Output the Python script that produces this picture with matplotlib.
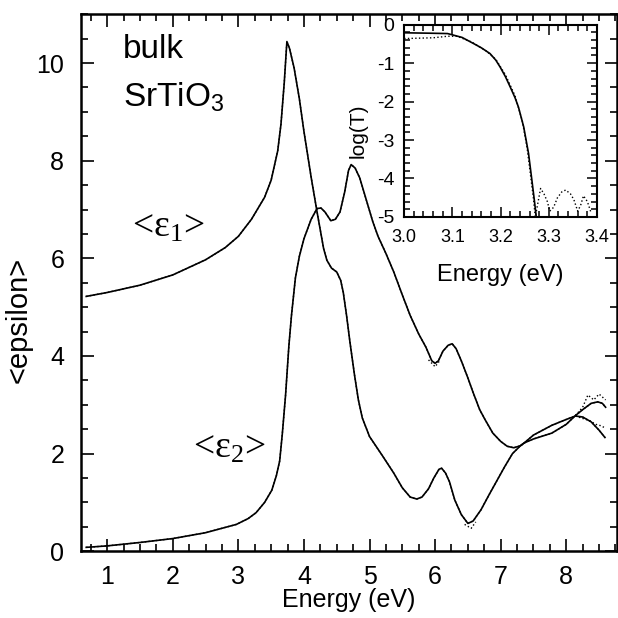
import numpy as np
import matplotlib
matplotlib.use('Agg')
import matplotlib.pyplot as plt
from matplotlib.ticker import MultipleLocator

plt.rcParams['font.family'] = ['Liberation Sans', 'DejaVu Sans']
plt.rcParams['mathtext.default'] = 'regular'
plt.rcParams['axes.unicode_minus'] = False

# dielectric function of bulk SrTiO3 (model fit)
energy_e1 = [0.68, 1.0, 1.5, 2.0, 2.5, 2.8, 3.0, 3.2, 3.4, 3.5, 3.6, 3.65, 3.7, 3.74,
             3.78, 3.85, 3.93, 4.0, 4.11, 4.2, 4.3, 4.35, 4.42, 4.5, 4.56, 4.6, 4.65,
             4.7, 4.77, 4.83, 4.89, 5.0, 5.2, 5.37, 5.5, 5.62, 5.72, 5.8, 5.9, 5.98,
             6.06, 6.1, 6.16, 6.22, 6.3, 6.4, 6.5, 6.58, 6.7, 6.82, 6.94, 7.06, 7.18,
             7.3, 7.36, 7.5, 7.78, 8.0, 8.14, 8.25, 8.38, 8.5, 8.59]
eps1 = [5.22, 5.30, 5.45, 5.66, 5.97, 6.22, 6.45, 6.8, 7.25, 7.6, 8.2, 8.75, 9.6, 10.44,
        10.3, 9.9, 9.27, 8.6, 7.66, 6.95, 6.2, 5.96, 5.8, 5.72, 5.55, 5.3, 4.83,
        4.3, 3.62, 3.1, 2.73, 2.35, 1.95, 1.6, 1.3, 1.11, 1.07, 1.11, 1.28, 1.5,
        1.68, 1.7, 1.6, 1.42, 1.05, 0.75, 0.57, 0.62, 0.85, 1.15, 1.44, 1.73, 2.0,
        2.16, 2.22, 2.38, 2.58, 2.7, 2.77, 2.75, 2.65, 2.48, 2.33]

energy_e2 = [0.68, 1.0, 1.5, 2.0, 2.5, 2.97, 3.15, 3.27, 3.4, 3.51, 3.58, 3.63, 3.67,
             3.72, 3.77, 3.81, 3.87, 3.93, 4.0, 4.11, 4.2, 4.26, 4.32, 4.41, 4.48,
             4.55, 4.62, 4.68, 4.72, 4.78, 4.85, 4.95, 5.05, 5.13, 5.25, 5.37, 5.5,
             5.62, 5.75, 5.86, 5.95, 6.0, 6.05, 6.12, 6.2, 6.26, 6.32, 6.4, 6.5, 6.58,
             6.68, 6.76, 6.88, 7.0, 7.1, 7.2, 7.3, 7.36, 7.5, 7.78, 8.0, 8.14, 8.25,
             8.38, 8.48, 8.55, 8.6]
eps2 = [0.08, 0.11, 0.18, 0.26, 0.38, 0.55, 0.67, 0.79, 1.0, 1.25, 1.55, 1.85, 2.4,
        3.2, 4.2, 4.83, 5.6, 6.04, 6.4, 6.8, 7.02, 7.03, 6.95, 6.77, 6.8,
        6.95, 7.35, 7.8, 7.92, 7.85, 7.65, 7.2, 6.75, 6.45, 6.1, 5.72, 5.25,
        4.83, 4.45, 4.18, 3.9, 3.85, 3.9, 4.1, 4.22, 4.25, 4.15, 3.9, 3.55, 3.25,
        2.9, 2.7, 2.42, 2.25, 2.15, 2.12, 2.16, 2.22, 2.3, 2.42, 2.6, 2.78, 2.9,
        3.03, 3.06, 3.03, 2.95]

# measured points where they separate from the fit
energy_e1_meas = [8.14, 8.25, 8.35, 8.45, 8.53, 8.6]
eps1_meas = [2.77, 2.72, 2.68, 2.6, 2.57, 2.52]
energy_e2_meas = [8.14, 8.25, 8.33, 8.42, 8.5, 8.6]
eps2_meas = [2.78, 2.95, 3.2, 3.1, 3.22, 3.1]
energy_e2_min = [5.9, 6.0, 6.08]
eps2_min = [3.92, 3.78, 3.92]
energy_e1_min = [6.45, 6.55, 6.62]
eps1_min = [0.55, 0.47, 0.6]

# transmission near the gap (inset)
energy_t = [3.0, 3.05, 3.09, 3.12, 3.144, 3.16, 3.178, 3.19, 3.199, 3.21, 3.22, 3.23,
            3.237, 3.248, 3.258, 3.265, 3.27, 3.274]
logt = [-0.21, -0.22, -0.23, -0.33, -0.49, -0.6, -0.75, -0.92, -1.1, -1.35, -1.62, -1.9,
        -2.14, -2.66, -3.35, -4.05, -4.56, -5.0]
energy_t_meas = [3.0, 3.03, 3.06, 3.09, 3.11, 3.14, 3.17, 3.19, 3.21, 3.23, 3.245, 3.255,
                 3.262, 3.268, 3.272, 3.283, 3.29, 3.297, 3.302, 3.31, 3.318, 3.327,
                 3.335, 3.345, 3.352, 3.36, 3.366, 3.372, 3.38, 3.388]
logt_meas = [-0.36, -0.35, -0.34, -0.3, -0.3, -0.45, -0.68, -0.9, -1.3, -1.85, -2.5, -3.2,
             -3.9, -4.5, -5.0, -4.26, -4.4, -4.6, -4.85, -4.75, -4.5, -4.35,
             -4.3, -4.4, -4.55, -4.85, -4.7, -4.45, -4.6, -4.9]

fig = plt.figure(figsize=(6.18, 6.18), dpi=100)
ax = fig.add_axes([0.131, 0.108, 0.867, 0.869])

ax.plot(energy_e1, eps1, color='black', lw=1.2)
ax.plot(energy_e2, eps2, color='black', lw=1.2)
ax.plot(energy_e1, eps1, color='black', lw=1.0, ls=':')
ax.plot(energy_e2, eps2, color='black', lw=1.0, ls=':')
for ex, ey in [(energy_e1_meas, eps1_meas), (energy_e2_meas, eps2_meas),
               (energy_e2_min, eps2_min), (energy_e1_min, eps1_min)]:
    ax.plot(ex, ey, color='black', lw=1.0, ls=':')

ax.set_xlim(0.6, 8.77)
ax.set_ylim(0, 11)
ax.xaxis.set_major_locator(MultipleLocator(1))
ax.xaxis.set_minor_locator(MultipleLocator(0.25))
ax.yaxis.set_major_locator(MultipleLocator(2))
ax.yaxis.set_minor_locator(MultipleLocator(0.5))
ax.tick_params(which='both', direction='in', top=True, right=True, width=1.2)
ax.tick_params(which='major', length=9, labelsize=18)
ax.tick_params(axis='y', which='major', pad=12)
ax.tick_params(axis='x', which='major', pad=10)
ax.tick_params(which='minor', length=5)
for s in ax.spines.values():
    s.set_linewidth(1.8)
ax.set_xlabel('Energy (eV)', fontsize=18)
ax.xaxis.set_label_coords(0.5, -0.069)
ax.set_ylabel('<epsilon>', fontsize=21)
ax.yaxis.set_label_coords(-0.091, 0.43)

ax.text(1.24, 10.27, 'bulk', fontsize=24, va='center', ha='left')
ax.text(1.24, 9.3, 'SrTiO$_3$', fontsize=24, va='center', ha='left')
ax.text(1.93, 6.64, '<ε$_1$>', fontsize=27, ha='center', va='center',
        family=['Liberation Serif', 'DejaVu Serif'])
ax.text(2.86, 2.11, '<ε$_2$>', fontsize=27, ha='center', va='center',
        family=['Liberation Serif', 'DejaVu Serif'])

# inset: log transmission
ins = fig.add_axes([0.654, 0.649, 0.312, 0.311])
ins.plot(energy_t, logt, color='black', lw=1.2)
ins.plot(energy_t_meas, logt_meas, color='black', lw=1.0, ls=':')
ins.set_xlim(3.0, 3.4)
ins.set_ylim(-5, 0)
ins.xaxis.set_major_locator(MultipleLocator(0.1))
ins.xaxis.set_minor_locator(MultipleLocator(0.02))
ins.yaxis.set_major_locator(MultipleLocator(1))
ins.yaxis.set_minor_locator(MultipleLocator(0.2))
ins.xaxis.set_major_formatter(plt.FormatStrFormatter('%.1f'))
ins.tick_params(which='both', direction='in', top=True, right=True, width=1.1)
ins.tick_params(which='major', length=7, labelsize=14)
ins.tick_params(axis='x', which='major', pad=9, labelsize=13)
ins.tick_params(axis='y', which='major', pad=7)
ins.tick_params(which='minor', length=4)
for s in ins.spines.values():
    s.set_linewidth(1.5)
ins.set_xlabel('Energy (eV)', fontsize=17)
ins.xaxis.set_label_coords(0.5, -0.245)
ins.set_ylabel('log(T)', fontsize=15)
ins.yaxis.set_label_coords(-0.19, 0.45)

fig.savefig('out.png', dpi=100)
